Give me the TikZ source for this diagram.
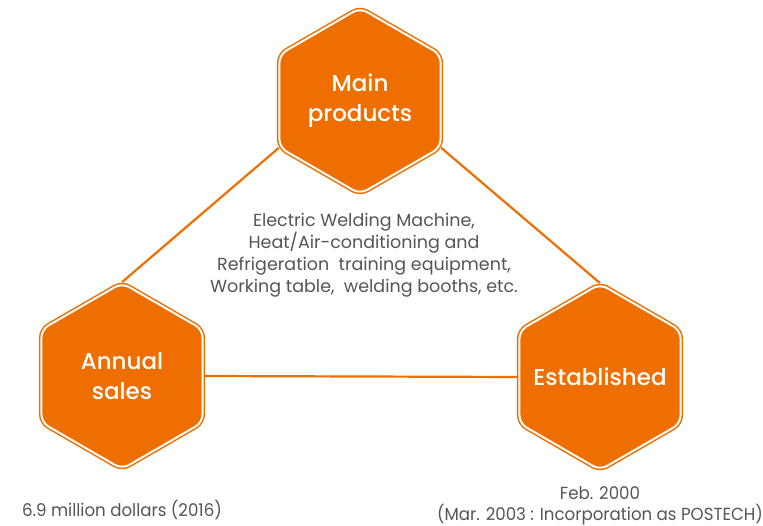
\documentclass[tikz,border=0pt]{standalone}
\usepackage{fontspec}
\setmainfont{Poppins}[BoldFont={Poppins Medium}]
\newfontfamily\narrowfont{Poppins}[FakeStretch=0.95]
\usetikzlibrary{shapes.geometric,positioning,backgrounds}
\definecolor{hexorange}{HTML}{EE6E00}
\definecolor{textgray}{HTML}{555555}
\tikzset{
  hexbox/.style={regular polygon,regular polygon sides=6,shape border rotate=30,
    minimum size=186pt,inner sep=-30pt,fill=hexorange,draw=hexorange,double=white,
    double distance=2pt,line width=1.5pt,rounded corners=8pt,text=white,
    font=\fontsize{23}{30}\selectfont\bfseries,align=center},
  link/.style={draw=hexorange,line width=2.2pt},
  note/.style={text=textgray,align=center,font=\fontsize{17.5}{22}\selectfont},
  foot/.style={text=textgray,align=center,font=\narrowfont\fontsize{17.5}{21}\selectfont}
}
\begin{document}
\begin{tikzpicture}[x=1pt,y=-1pt]
\useasboundingbox (0,0) rectangle (763,526);

% hexagons
\node[hexbox] (main) at (360,101) {Main\\products};
\node[hexbox] (annual) at (122,376) {Annual\\sales};
\node[hexbox] (established) at (600,377) {Established};

% links behind
\begin{pgfonlayer}{background}
\draw[link] (main.210) -- (annual.90);
\draw[link] (main.330) -- (established.90);
\draw[link] (annual.0) -- (established.180);
\end{pgfonlayer}

% texts
\node[note] (products) at (364,255) {Electric Welding Machine,\\Heat/Air-conditioning and\\Refrigeration\ \ training equipment,\\Working table,\ \ welding booths, etc.};
\node[foot,below=27pt of annual] (sales) {6.9 million dollars (2016)};
\node[foot,below=12pt of established] (date) {Feb. 2000\\(Mar. 2003 : Incorporation as POSTECH)};
\end{tikzpicture}
\end{document}
